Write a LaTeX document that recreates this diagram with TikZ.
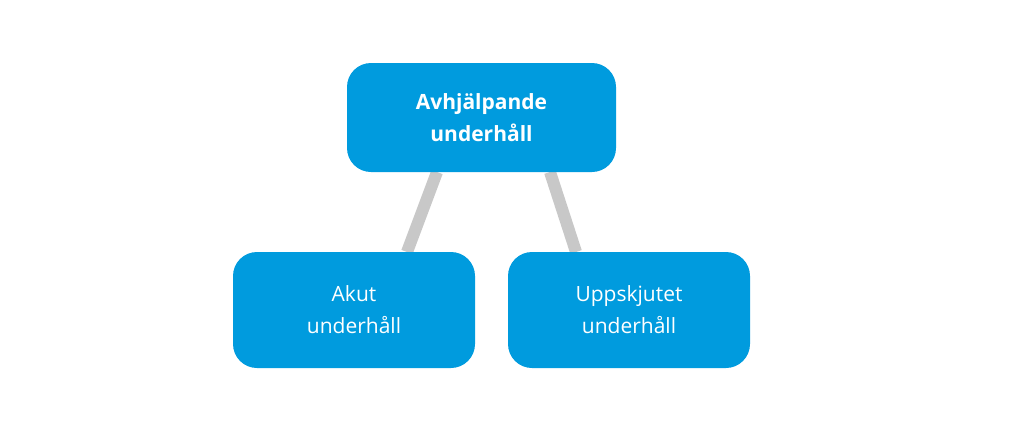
\documentclass[tikz,border=0pt]{standalone}
\usepackage{fontspec}
\setmainfont{Open Sans}
\definecolor{boxblue}{HTML}{009BDE}
\definecolor{linegray}{HTML}{C8C8C8}
\begin{document}
\begin{tikzpicture}[x=1pt,y=-1pt,
  box/.style={fill=boxblue,rounded corners=24pt,text=white,align=center,font=\fontsize{21}{32}\selectfont,inner sep=0pt},
  conn/.style={draw=linegray,line width=12pt}]
\useasboundingbox (0,0) rectangle (1024,439);
\coordinate (t1) at (437,172);
\coordinate (b1) at (407,252);
\coordinate (t2) at (550,172);
\coordinate (b2) at (576,252);
\draw[conn] (t1) -- (b1);
\draw[conn] (t2) -- (b2);
\node[box,minimum width=269pt,minimum height=109pt,font=\fontsize{21}{32}\selectfont\bfseries] (top) at (481.5,117.5) {Avhjälpande\\underhåll};
\node[box,minimum width=242pt,minimum height=116pt] (left) at (354,310) {Akut\\underhåll};
\node[box,minimum width=242pt,minimum height=116pt] (right) at (629,310) {Uppskjutet\\underhåll};
\end{tikzpicture}
\end{document}
